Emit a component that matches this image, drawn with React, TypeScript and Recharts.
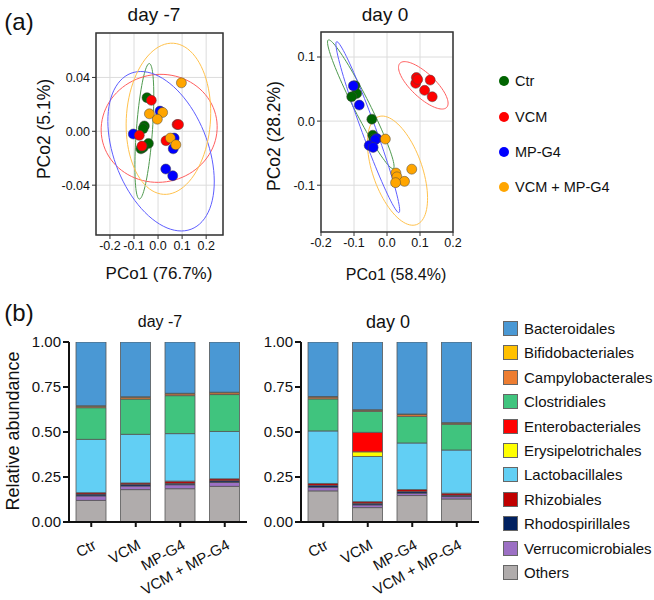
import React from 'react';
import {
  ScatterChart, Scatter, XAxis, YAxis, CartesianGrid, ReferenceArea,
  BarChart, Bar,
} from 'recharts';

// ---------- PCoA data ----------
const groups = ['Ctr', 'VCM', 'MP-G4', 'VCM + MP-G4'];
const groupColors = ['#006400', '#ff0000', '#0000ff', '#ffa500'];
const ellipseColors = ['#4f9a4f', '#ff5e5e', '#5e5eff', '#ffc24d'];

// day -7 points [PCo1, PCo2]
const d7Ctr = [[-0.046, 0.025], [-0.057, 0.004], [-0.062, 0.002], [-0.040, -0.009], [-0.071, -0.013], [-0.062, -0.012]];
const d7VCM = [[-0.028, 0.023], [-0.078, -0.003], [-0.067, -0.011], [0.079, 0.005], [0.085, 0.005], [0.033, -0.007]];
const d7MPG4 = [[-0.103, -0.002], [0.008, 0.015], [0.067, -0.005], [0.063, -0.013], [0.032, -0.028], [0.061, -0.033]];
const d7Combo = [[0.097, 0.036], [-0.036, 0.013], [0.019, 0.014], [-0.003, 0.009], [0.051, -0.005], [0.074, -0.010]];

// day 0 points
const d0Ctr = [[-0.097, 0.055], [-0.092, 0.043], [-0.107, 0.038], [-0.046, 0.003], [-0.043, -0.022], [-0.040, -0.028]];
const d0VCM = [[0.089, 0.068], [0.087, 0.059], [0.093, 0.065], [0.131, 0.064], [0.114, 0.048], [0.137, 0.038]];
const d0MPG4 = [[-0.102, 0.055], [-0.084, 0.025], [-0.031, -0.027], [-0.036, -0.029], [-0.054, -0.038], [-0.042, -0.041]];
const d0Combo = [[-0.005, -0.028], [0.075, -0.075], [0.027, -0.081], [0.030, -0.087], [0.053, -0.094], [0.026, -0.096]];

// confidence ellipses: [centerX, centerY, axis1X, axis1Y, axis2X, axis2Y]
const d7Ellipses = [
  [-0.057, 0.000, 0.0208, 0.0503, 0.0333, -0.0004],
  [0.0046, 0.0022, 0.238, 0.0075, 0.039, -0.0394],
  [0.0125, -0.0148, 0.125, -0.0579, -0.1825, -0.0124],
  [0.0431, 0.0093, 0.0208, 0.0561, 0.1746, -0.0021],
];
const d0Ellipses = [
  [-0.0794, 0.0263, 0.0985, -0.1003, -0.0215, -0.0056],
  [0.110, 0.0558, 0.0709, -0.0344, -0.0248, -0.0136],
  [-0.0582, -0.0094, 0.0945, -0.1333, -0.0200, -0.0038],
  [0.0318, -0.0773, 0.0576, -0.0842, -0.0706, -0.0128],
];

const pcoTicksX = [-0.2, -0.1, 0, 0.1, 0.2];
const d7TicksY = [-0.04, 0, 0.04];
const d0TicksY = [-0.1, 0, 0.1];

// ---------- Relative abundance data ----------
const categories = ['Ctr', 'VCM', 'MP-G4', 'VCM + MP-G4'];
const orders = ['Bacteroidales', 'Bifidobacteriales', 'Campylobacterales', 'Clostridiales', 'Enterobacteriales',
  'Erysipelotrichales', 'Lactobacillales', 'Rhizobiales', 'Rhodospirillales', 'Verrucomicrobiales', 'Others'];
const orderColors = ['#4a98d4', '#ffc000', '#ed7d31', '#40c47e', '#ff0000', '#ffff00', '#62cff4', '#c00000',
  '#002060', '#9c70c4', '#b0acac'];

const dayM7Abund = {
  Bacteroidales: [0.354, 0.304, 0.285, 0.279],
  Bifidobacteriales: [0.003, 0.003, 0.003, 0.003],
  Campylobacterales: [0.008, 0.010, 0.010, 0.010],
  Clostridiales: [0.176, 0.196, 0.211, 0.205],
  Enterobacteriales: [0, 0, 0, 0],
  Erysipelotrichales: [0, 0, 0, 0],
  Lactobacillales: [0.296, 0.270, 0.264, 0.263],
  Rhizobiales: [0.008, 0.008, 0.012, 0.011],
  Rhodospirillales: [0.010, 0.009, 0.008, 0.009],
  Verrucomicrobiales: [0.025, 0.020, 0.022, 0.022],
  Others: [0.120, 0.180, 0.185, 0.198],
};
const day0Abund = {
  Bacteroidales: [0.303, 0.376, 0.400, 0.448],
  Bifidobacteriales: [0.003, 0.003, 0.003, 0.003],
  Campylobacterales: [0.010, 0.006, 0.010, 0.006],
  Clostridiales: [0.178, 0.117, 0.148, 0.143],
  Enterobacteriales: [0, 0.108, 0, 0],
  Erysipelotrichales: [0, 0.026, 0, 0],
  Lactobacillales: [0.292, 0.251, 0.259, 0.240],
  Rhizobiales: [0.010, 0.009, 0.011, 0.011],
  Rhodospirillales: [0.011, 0.009, 0.009, 0.008],
  Verrucomicrobiales: [0.020, 0.015, 0.013, 0.013],
  Others: [0.173, 0.080, 0.147, 0.128],
};
const abundTicks = [0, 0.25, 0.5, 0.75, 1];

// ---------- helpers ----------
const FONT = '"Liberation Sans", Arial, sans-serif';

const toPts = (arr) => arr.map(([x, y]) => ({ x, y }));

const ellipseOutline = (e) => {
  const [cx, cy, ax, ay, bx, by] = e;
  const pts = [];
  const n = 90;
  for (let i = 0; i <= n; i++) {
    const t = (i / n) * Math.PI * 2;
    pts.push({ x: cx + ax * Math.cos(t) + bx * Math.sin(t), y: cy + ay * Math.cos(t) + by * Math.sin(t) });
  }
  return pts;
};

const buildRows = (table) =>
  categories.map((c, i) => {
    const row = { cat: c };
    orders.forEach((o) => { row[o] = table[o][i]; });
    return row;
  });

const Txt = ({ x, y, size, rotate = 0, children, anchor = 'center', weight = 'normal' }) => {
  const tx = anchor === 'center' ? '-50%' : '0';
  return (
    <div
      style={{
        position: 'absolute', left: x, top: y, fontSize: size, lineHeight: 1, whiteSpace: 'nowrap',
        transform: `translate(${tx}, -50%) rotate(${rotate}deg)`, fontFamily: FONT, color: '#111', fontWeight: weight,
      }}
    >
      {children}
    </div>
  );
};

const dotShape = (color) => (p) => (
  <circle cx={p.cx} cy={p.cy} r={5} fill={color} stroke="#444" strokeWidth={0.5} />
);
const noShape = () => <g />;

const PcoPlot = ({ left, width, yAxisWidth, marginRight, top, xAxisHeight, height, xDomain, yDomain, yTicks, yFmt, points, ellipses }) => (
  <div style={{ position: 'absolute', left, top: 0 }}>
    <ScatterChart width={width} height={height} margin={{ top, right: marginRight, bottom: 0, left: 0 }}>
      <CartesianGrid stroke="#dcdcdc" strokeWidth={1} />
      <XAxis type="number" dataKey="x" domain={xDomain} ticks={pcoTicksX} allowDataOverflow
        tickFormatter={(v) => v.toFixed(1)} axisLine={false} tickLine={{ stroke: '#333' }} tickSize={4}
        height={xAxisHeight} tick={{ fontSize: 12.5, fill: '#111', fontFamily: FONT }} interval={0} />
      <YAxis type="number" dataKey="y" domain={yDomain} ticks={yTicks} allowDataOverflow
        tickFormatter={yFmt} axisLine={false} tickLine={{ stroke: '#333' }} tickSize={4}
        width={yAxisWidth} tick={{ fontSize: 12.5, fill: '#111', fontFamily: FONT }} interval={0} />
      {ellipses.map((e, i) => (
        <Scatter key={'e' + i} data={ellipseOutline(e)} line={{ stroke: ellipseColors[i], strokeWidth: 1 }}
          lineType="joint" shape={noShape} fill={ellipseColors[i]} isAnimationActive={false} legendType="none" />
      ))}
      {[0, 2, 1, 3].map((gi) => (
        <Scatter key={'p' + gi} name={groups[gi]} data={toPts(points[gi])} shape={dotShape(groupColors[gi])}
          fill={groupColors[gi]} isAnimationActive={false} />
      ))}
      <ReferenceArea x1={xDomain[0]} x2={xDomain[1]} y1={yDomain[0]} y2={yDomain[1]} fill="none"
        fillOpacity={0} stroke="#333" strokeWidth={1.5} ifOverflow="visible" />
    </ScatterChart>
  </div>
);

const CatTick = (props) => {
  const { x, y, payload } = props;
  const ax = x + 6;
  const ay = y + 19;
  return (
    <text x={ax} y={ay} transform={`rotate(-29 ${ax} ${ay})`} textAnchor="end" fontSize={15}
      fontFamily={FONT} fill="#111">
      {payload.value}
    </text>
  );
};

const AbundPlot = ({ left, table }) => (
  <div style={{ position: 'absolute', left, top: 300 }}>
    <BarChart width={235} height={300} data={buildRows(table)} margin={{ top: 42, right: 8, bottom: 0, left: 0 }}
      barSize={30}>
      <XAxis dataKey="cat" type="category" height={78} interval={0} tick={<CatTick />}
        axisLine={{ stroke: '#111', strokeWidth: 2 }} tickLine={{ stroke: '#111', strokeWidth: 2 }} tickSize={5} />
      <YAxis type="number" domain={[0, 1]} ticks={abundTicks} allowDataOverflow width={49}
        tickFormatter={(v) => v.toFixed(2)} axisLine={{ stroke: '#111', strokeWidth: 2 }}
        tickLine={{ stroke: '#111', strokeWidth: 2 }} tickSize={6}
        tick={{ fontSize: 15, fill: '#111', fontFamily: FONT }} interval={0} />
      {[...orders].reverse().map((o) => (
        <Bar key={o} dataKey={o} stackId="s" fill={orderColors[orders.indexOf(o)]} stroke="#555"
          strokeWidth={0.8} isAnimationActive={false} />
      ))}
    </BarChart>
  </div>
);

const legendAY = [81, 117, 152, 187];

export default function App() {
  return (
    <div style={{ position: 'absolute', left: 0, top: 0, width: 654, height: 600, background: '#fff', fontFamily: FONT, overflow: 'hidden' }}>
      {/* Panel (a) */}
      <PcoPlot left={40} width={205} yAxisWidth={56} marginRight={22} top={33} xAxisHeight={55} height={290}
        xDomain={[-0.258, 0.27]} yDomain={[-0.077, 0.073]} yTicks={d7TicksY} yFmt={(v) => v.toFixed(2)}
        points={[d7Ctr, d7VCM, d7MPG4, d7Combo]} ellipses={d7Ellipses} />
      <PcoPlot left={260} width={215} yAxisWidth={61} marginRight={22} top={32} xAxisHeight={58} height={290}
        xDomain={[-0.2, 0.2]} yDomain={[-0.173, 0.139]} yTicks={d0TicksY} yFmt={(v) => v.toFixed(1)}
        points={[d0Ctr, d0VCM, d0MPG4, d0Combo]} ellipses={d0Ellipses} />

      <Txt x={19} y={22} size={24}>(a)</Txt>
      <Txt x={154} y={14} size={19}>day -7</Txt>
      <Txt x={385} y={14} size={19}>day 0</Txt>
      <Txt x={45} y={129} size={17.5} rotate={-90}>PCo2 (5.1%)</Txt>
      <Txt x={159} y={273} size={17}>PCo1 (76.7%)</Txt>
      <Txt x={275} y={136} size={17.5} rotate={-90}>PCo2 (28.2%)</Txt>
      <Txt x={396} y={275} size={16}>PCo1 (58.4%)</Txt>

      {groups.map((g, i) => (
        <React.Fragment key={g}>
          <div style={{ position: 'absolute', left: 499, top: legendAY[i] - 5, width: 10, height: 10, borderRadius: 5, background: groupColors[i] }} />
          <Txt x={515} y={legendAY[i]} size={14.5} anchor="left">{g}</Txt>
        </React.Fragment>
      ))}

      {/* Panel (b) */}
      <AbundPlot left={20} table={dayM7Abund} />
      <AbundPlot left={252} table={day0Abund} />

      <Txt x={19} y={313} size={24}>(b)</Txt>
      <Txt x={160} y={322} size={16}>day -7</Txt>
      <Txt x={388} y={322} size={18}>day 0</Txt>
      <Txt x={13} y={431} size={18} rotate={-90}>Relative abundance</Txt>

      {orders.map((o, i) => (
        <React.Fragment key={o}>
          <div style={{ position: 'absolute', left: 503, top: 321 + i * 24.4, width: 13, height: 13, background: orderColors[i], border: '1px solid #666' }} />
          <Txt x={524} y={328 + i * 24.4} size={15} anchor="left">{o}</Txt>
        </React.Fragment>
      ))}
    </div>
  );
}
